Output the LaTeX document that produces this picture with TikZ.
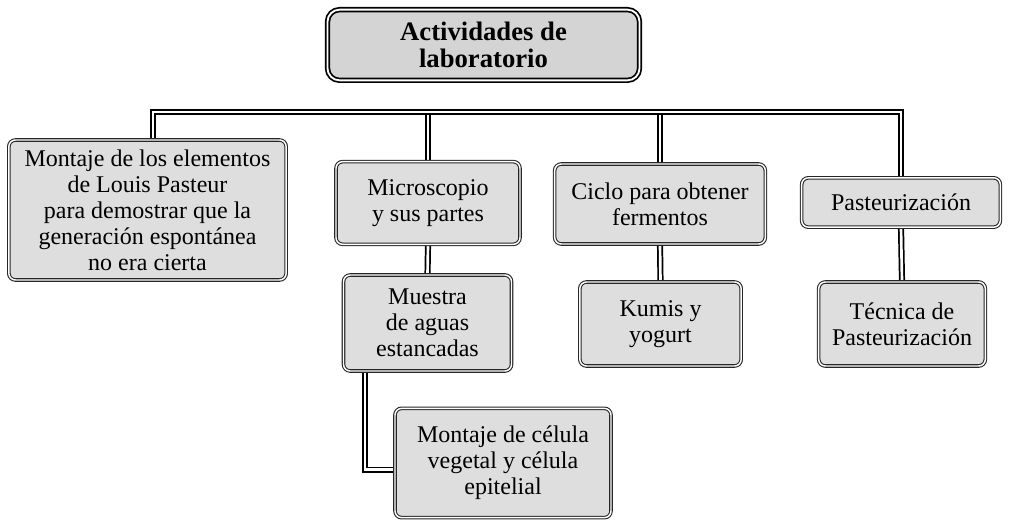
\documentclass[tikz,border=0pt]{standalone}
\usepackage{fontspec}
\setmainfont{Liberation Serif}
\usetikzlibrary{positioning,backgrounds}

\tikzset{
  caja/.style={draw=black!85,line width=0.8pt,double=white,double distance=1.1pt,
    fill=black!13,rounded corners=5pt,align=center,inner sep=2pt,
    font=\fontsize{18pt}{19.5pt}\selectfont},
  raiz/.style={caja,draw=black,line width=1.3pt,double distance=1.4pt,rounded corners=9pt,
    fill=black!17,font=\bfseries\fontsize{20pt}{20pt}\selectfont},
  enlace/.style={draw=black,line width=1.3pt,double=white,double distance=2pt}
}

\begin{document}
\begin{tikzpicture}[x=0.75pt,y=-0.75pt]
	\useasboundingbox (0,0) rectangle (1009,523);
	
	\node[raiz,minimum width=234pt,minimum height=53pt] (A) at (483.5,45)
	{Actividades de\\laboratorio};
	
	\node[caja,minimum width=208pt,minimum height=105pt] (P1) at (147.5,210)
	{Montaje de los elementos\\de Louis Pasteur\\para demostrar que la\\generación espontánea\\no era cierta};
	
	\node[caja,minimum width=138pt,minimum height=62pt] (M) at (428,203)
	{Microscopio\\y sus partes};
	
	\node[caja,minimum width=158pt,minimum height=60pt] (C) at (660,204)
	{Ciclo para obtener\\fermentos};
	
	\node[caja,minimum width=149pt,minimum height=37pt] (P) at (901,202.5)
	{Pasteurización};
	
	\node[caja,minimum width=126pt,minimum height=72pt] (MA) at (427.5,323)
	{Muestra\\de aguas\\estancadas};
	
	\node[caja,minimum width=121pt,minimum height=63pt] (K) at (660.5,324)
	{Kumis y\\yogurt};
	
	\node[caja,minimum width=125pt,minimum height=63pt] (T) at (902,324)
	{Técnica de\\Pasteurización};
	
	\node[caja,minimum width=162pt,minimum height=82pt] (CV) at (503,463)
	{Montaje de célula\\vegetal y célula\\epitelial};
	
	\coordinate (barra) at (483,112);
	
	% conectores detras de las cajas
	\begin{scope}[on background layer]
		\draw[enlace] (M.north |- barra) -- (M.north);
		\draw[enlace] (C.north |- barra) -- (C.north);
		\draw[enlace] (M.south) -- (MA.north);
		\draw[enlace] (C.south) -- (K.north);
		\draw[enlace] (P.south) -- (T.north);
		\draw[enlace] ([xshift=-47pt]MA.south) |- ([yshift=-5pt]CV.west);
		\draw[enlace] ([xshift=4pt]P1.north) |- (barra) -| (P.north);
	\end{scope}
	
\end{tikzpicture}
\end{document}
